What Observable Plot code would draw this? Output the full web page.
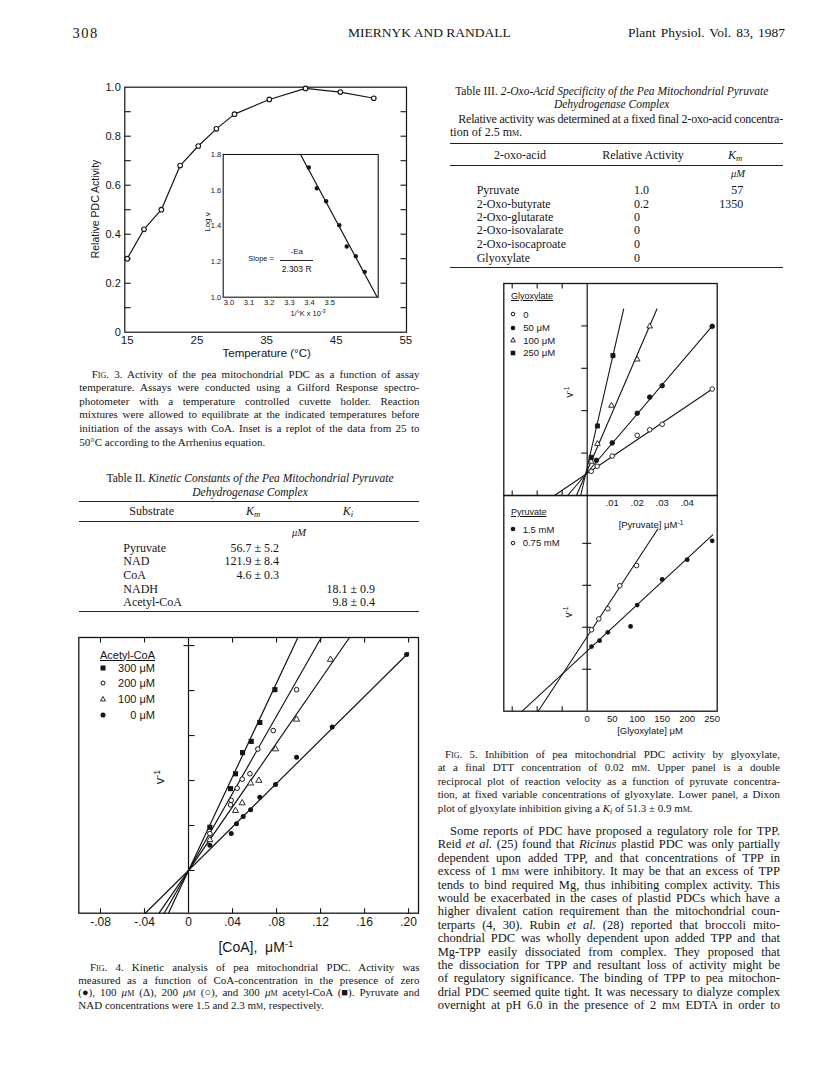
<!DOCTYPE html>
<html><head><meta charset="utf-8">
<script src="https://cdn.jsdelivr.net/npm/d3@7"></script>
<script src="https://cdn.jsdelivr.net/npm/@observablehq/plot@0.6"></script>
<style>
html,body{margin:0;padding:0;background:#fff;}
#page{position:relative;width:816px;height:1073px;overflow:hidden;background:#fff;color:#151515;font-family:"Liberation Serif","Times New Roman",serif;}
.sc{font-variant:small-caps;}
sub.s{font-size:72%;vertical-align:-0.25em;line-height:0;}
sup.s{font-size:70%;vertical-align:0.5em;line-height:0;}
</style></head><body><div id="page"></div>
<script>
// ---------------- DATA ----------------
// Fig. 3 main panel
const fig3Temp = [15, 17.4, 19.9, 22.6, 25.2, 27.8, 30.4, 35.4, 40.6, 45.6, 50.4];
const fig3Activity = [0.30, 0.42, 0.50, 0.68, 0.76, 0.83, 0.89, 0.95, 0.995, 0.98, 0.955];
const fig3XTicks = [15, 25, 35, 45, 55];
const fig3YTicks = [0, 0.2, 0.4, 0.6, 0.8, 1.0];
const fig3YMinor = [0.1, 0.2, 0.3, 0.4, 0.5, 0.6, 0.7, 0.8, 0.9];
// Fig. 3 inset (Arrhenius replot)
const insetInvT = [3.396, 3.436, 3.482, 3.547, 3.584, 3.629, 3.673];
const insetLogV = [1.727, 1.611, 1.538, 1.404, 1.284, 1.230, 1.142];
const insetFitX = [3.355, 3.735];
const insetFitY = [1.8, 1.0];
const insetXTicks = [3.0, 3.1, 3.2, 3.3, 3.4, 3.5];
const insetYTicks = [1.0, 1.2, 1.4, 1.6, 1.8];
// Fig. 4 (double reciprocal, acetyl-CoA)
const coaSeries = ["300 μM", "200 μM", "100 μM", "0 μM"];
const coa300X = [0.0785, 0.0648, 0.0570, 0.0491, 0.0427, 0.0382, 0.0194];
const coa300Y = [5.02, 4.29, 3.87, 3.62, 3.15, 2.82, 1.96];
const coa200X = [0.0982, 0.0770, 0.0630, 0.0558, 0.0488, 0.0442, 0.0388, 0.0382, 0.0194];
const coa200Y = [5.02, 4.11, 3.70, 3.15, 3.03, 2.83, 2.56, 2.46, 1.82];
const coa100X = [0.1290, 0.0982, 0.0791, 0.0639, 0.0564, 0.0488, 0.0427, 0.0194];
const coa100Y = [5.69, 4.36, 3.70, 3.00, 2.94, 2.50, 2.33, 1.68];
const coa0X = [0.1982, 0.1306, 0.0982, 0.0791, 0.0648, 0.0564, 0.0497, 0.0436, 0.0388, 0.0194];
const coa0Y = [5.80, 4.19, 3.52, 2.91, 2.63, 2.35, 2.20, 2.04, 1.82, 1.56];
const coaFitStartX = [-0.0182, -0.0221, -0.0268, -0.0393];
const coaFitStartY = [0.05, 0.05, 0.05, 0.05];
const coaFitEndX = [0.0994, 0.1207, 0.1463, 0.2000];
const coaFitEndY = [6.18, 6.18, 6.18, 5.84];
const fig4XTicks = [-0.08, -0.04, 0, 0.04, 0.08, 0.12, 0.16, 0.20];
const fig4YTicks = [1, 2, 3, 4, 5, 6];
// Fig. 5 upper (double reciprocal, glyoxylate)
const glySeries = ["0", "50 μM", "100 μM", "250 μM"];
const gly0X = [0.05, 0.03, 0.025, 0.02, 0.01, 0.004, 0.0016];
const gly0Y = [2.51, 1.68, 1.55, 1.42, 0.93, 0.69, 0.57];
const gly50X = [0.05, 0.03, 0.025, 0.02, 0.01, 0.0037];
const gly50Y = [3.99, 2.59, 2.32, 1.94, 1.24, 0.83];
const gly100X = [0.025, 0.02, 0.0097, 0.0041, 0.0016];
const gly100Y = [3.99, 3.21, 2.12, 1.22, 0.80];
const gly250X = [0.0103, 0.0041, 0.0016];
const gly250Y = [3.30, 1.64, 0.90];
const glyFitStartX = [-0.0131, -0.0078, -0.0043, -0.0026];
const glyFitEndX = [0.0505, 0.0505, 0.0279, 0.0146];
const glyFitEndY = [2.53, 4.03, 4.40, 4.40];
const fig5UXTicks = [0.01, 0.02, 0.03, 0.04];
const fig5UFrameTicks = [-0.03, -0.02, -0.01];
const fig5UYTicks = [1, 2, 3, 4];
// Fig. 5 lower (Dixon plot)
const pyrSeries = ["1.5 mM", "0.75 mM"];
const pyr15X = [8.7, 24.7, 41.3, 86.7, 100, 150, 200, 250];
const pyr15Y = [1.54, 1.68, 1.88, 2.02, 2.53, 3.14, 3.61, 4.06];
const pyr075X = [8.7, 23.3, 41.3, 65.3, 98.7];
const pyr075Y = [1.94, 2.20, 2.44, 2.99, 3.47];
const pyrFitX = [[-130, 251], [-98, 141.3]];
const pyrFitY = [[0, 4.20], [0, 4.34]];
const fig5LXTicks = [0, 50, 100, 150, 200, 250];
const fig5LFrameTicks = [-150, -100, -50];
const fig5LYTicks = [1, 2, 3, 4];

// ---------------- HELPERS ----------------
const SANS = '"Liberation Sans", Arial, Helvetica, sans-serif';
const SERIF = '"Liberation Serif", "Times New Roman", serif';
const INK = "#151515";
const page = document.getElementById("page");

function put(el, left, top) {
  el.style.position = "absolute"; el.style.left = left + "px"; el.style.top = top + "px";
  page.appendChild(el); return el;
}
function textAt(html, x, yc, o = {}) {
  const size = o.size || 12, lh = o.lh || Math.round(size * 1.2);
  const d = document.createElement("div");
  d.innerHTML = html;
  Object.assign(d.style, {position: "absolute", whiteSpace: "nowrap", fontSize: size + "px",
    lineHeight: lh + "px", fontFamily: o.family || SERIF, top: (yc - lh / 2) + "px", left: x + "px"});
  if (o.italic) d.style.fontStyle = "italic";
  if (o.weight) d.style.fontWeight = o.weight;
  if (o.underline) d.style.textDecoration = "underline";
  page.appendChild(d);
  const w = d.getBoundingClientRect().width;
  if (o.anchor === "middle") d.style.left = (x - w / 2) + "px";
  else if (o.anchor === "end") d.style.left = (x - w) + "px";
  if (o.width) {
    const t = d.textContent, n = t.length, spaces = (t.match(/ /g) || []).length;
    if (w > o.width) d.style.letterSpacing = ((o.width - w) / n) + "px";
    else if (o.justify && spaces) d.style.wordSpacing = ((o.width - w) / spaces) + "px";
  }
  return d;
}
function rotText(html, cx, cy, o = {}) {
  const d = textAt(html, cx, cy, o);
  const w = d.getBoundingClientRect().width;
  d.style.left = (cx - w / 2) + "px";
  d.style.transform = "rotate(-90deg)";
  d.style.transformOrigin = "50% 50%";
  return d;
}
function hrule(x1, x2, y, w = 1) {
  const d = document.createElement("div");
  Object.assign(d.style, {position: "absolute", left: x1 + "px", top: (y - w / 2) + "px", width: (x2 - x1) + "px", height: w + "px", background: "#222"});
  page.appendChild(d);
}
function legendSym(kind, cx, cy, s = 5) {
  const h = s / 2;
  let shape;
  if (kind === "square") shape = `<rect x="${-h}" y="${-h}" width="${s}" height="${s}" fill="${INK}"/>`;
  else if (kind === "dot") shape = `<circle r="${h}" fill="${INK}"/>`;
  else if (kind === "circle") shape = `<circle r="${h - 0.5}" fill="white" stroke="${INK}" stroke-width="1"/>`;
  else shape = `<path d="M0,${-h}L${h},${h * 0.8}L${-h},${h * 0.8}Z" fill="white" stroke="${INK}" stroke-width="0.9"/>`;
  const d = document.createElement("div");
  d.innerHTML = `<svg width="12" height="12" viewBox="-6 -6 12 12" style="display:block">${shape}</svg>`;
  return put(d, cx - 6, cy - 6);
}
const tick = (x1, y1, x2, y2) => ({draw(ctx) { ctx.moveTo(x1, y1); ctx.lineTo(x2, y2); }});
const TICK = {stroke: INK, fill: "none", strokeWidth: 1.1};
const plotStyle = (fs) => ({background: "transparent", fontFamily: SANS, fontSize: fs + "px", color: INK, overflow: "visible"});
const dotFmt = d => d === 0 ? "0" : d3.format(".2f")(d).replace(/^([−-]?)0\./, "$1.").replace("−", "-");
const rows = (xs, ys, s) => xs.map((x, i) => ({x, y: ys[i], s}));

// ---------------- HEADER ----------------
textAt("308", 72.5, 33, {size: 14.5, lh: 16}).style.letterSpacing = "1.5px";
textAt("MIERNYK AND RANDALL", 348, 33, {size: 13.5, lh: 16, width: 164});
textAt("Plant Physiol. Vol. 83, 1987", 628, 33, {size: 13.5, lh: 16, width: 157, justify: true});

// ---------------- FIG. 3 ----------------
const fig3Rows = rows(fig3Temp, fig3Activity, "a");
const fig3 = Plot.plot({
  width: 360, height: 290, marginLeft: 64.3, marginRight: 14, marginTop: 11.7, marginBottom: 33.3,
  style: plotStyle(11.5),
  x: {domain: [14.65, 55.1]}, y: {domain: [0, 1]},
  marks: [
    Plot.frame({stroke: INK, strokeWidth: 1.2}),
    Plot.axisX({ticks: fig3XTicks, tickSize: 0, tickPadding: 4, label: null, fontSize: 11.5}),
    Plot.axisY({ticks: fig3YTicks, tickSize: 0, tickPadding: 4, label: null, fontSize: 11, tickFormat: d => d === 0 ? "0" : d.toFixed(1)}),
    Plot.dot(fig3YMinor, {y: d => d, frameAnchor: "left", symbol: tick(0, 0, 6, 0), ...TICK}),
    Plot.dot(fig3YMinor, {y: d => d, frameAnchor: "right", symbol: tick(0, 0, -6, 0), ...TICK}),
    Plot.line(fig3Rows, {x: "x", y: "y", stroke: INK, strokeWidth: 1.2}),
    Plot.dot(fig3Rows, {x: "x", y: "y", r: 2.3, fill: "white", stroke: INK, strokeWidth: 1.1})
  ]
});
put(fig3, 60, 75);
rotText("Relative PDC Activity", 95, 208.5, {size: 10.5, family: SANS, lh: 12});
textAt("Temperature (°C)", 266.7, 353.3, {size: 11.5, family: SANS, anchor: "middle"});

// inset
const insetRows = rows(insetInvT, insetLogV, "p");
const insetFit = rows(insetFitX, insetFitY, "f");
const inset = Plot.plot({
  width: 190, height: 175, marginLeft: 27.7, marginRight: 7.3, marginTop: 9, marginBottom: 23.3,
  style: plotStyle(7.5),
  x: {domain: [2.972, 3.74]}, y: {domain: [1.0, 1.8]},
  marks: [
    Plot.frame({fill: "white", stroke: INK, strokeWidth: 1.1}),
    Plot.axisX({ticks: insetXTicks, tickSize: 0, tickPadding: 2.5, label: null, fontSize: 7.5, tickFormat: d3.format(".1f")}),
    Plot.axisY({ticks: insetYTicks, tickSize: 0, tickPadding: 2, label: null, fontSize: 7.5, tickFormat: d3.format(".1f")}),
    Plot.line(insetFit, {x: "x", y: "y", stroke: INK, strokeWidth: 1.2}),
    Plot.dot(insetRows, {x: "x", y: "y", r: 2.2, fill: INK})
  ]
});
put(inset, 195, 145);
rotText("Log v", 208, 222, {size: 8, family: SANS, lh: 10});
textAt("1/°K x 10<sup class='s'>-3</sup>", 308, 314, {size: 7.5, family: SANS, anchor: "middle", lh: 8});
textAt("Slope =", 248.3, 258.3, {size: 7.5, family: SANS});
textAt("-Ea", 296.7, 251.7, {size: 8, family: SANS, anchor: "middle", lh: 9});
hrule(280, 313, 260.3, 0.9);
textAt("2.303 R", 296.7, 269, {size: 8.5, family: SANS, anchor: "middle", lh: 9});

// caption fig 3
const cap3 = [
  "<span class='sc'>Fig</span>. 3. Activity of the pea mitochondrial PDC as a function of assay",
  "temperature. Assays were conducted using a Gilford Response spectro-",
  "photometer with a temperature controlled cuvette holder. Reaction",
  "mixtures were allowed to equilibrate at the indicated temperatures before",
  "initiation of the assays with CoA. Inset is a replot of the data from 25 to",
  "50°C according to the Arrhenius equation."
];
cap3.forEach((s, i) => {
  const x = i === 0 ? 91.7 : 79.3;
  textAt(s, x, 374 + i * 13.66, {size: 11, lh: 13, width: i === cap3.length - 1 ? null : 419.5 - x, justify: true});
});

// ---------------- TABLE II ----------------
textAt("Table II. <i>Kinetic Constants of the Pea Mitochondrial Pyruvate</i>", 250, 478, {size: 11.5, lh: 13, anchor: "middle"});
textAt("<i>Dehydrogenase Complex</i>", 250, 492, {size: 11.5, lh: 13, anchor: "middle"});
hrule(79.3, 419, 501.7, 1.4);
textAt("Substrate", 151.7, 511.7, {size: 12, lh: 13, anchor: "middle"});
textAt("<i>K</i><sub class='s'><i>m</i></sub>", 253, 511.7, {size: 12, lh: 13, anchor: "middle"});
textAt("<i>K</i><sub class='s'><i>i</i></sub>", 348, 511.7, {size: 12, lh: 13, anchor: "middle"});
hrule(79.3, 419, 521, 0.8);
textAt("<i>μM</i>", 299, 532.7, {size: 10.5, lh: 12, anchor: "middle"});
const t2Sub = ["Pyruvate", "NAD", "CoA", "NADH", "Acetyl-CoA"];
const t2Km = ["56.7 ± 5.2", "121.9 ± 8.4", "4.6 ± 0.3", "", ""];
const t2Ki = ["", "", "", "18.1 ± 0.9", "9.8 ± 0.4"];
const t2Y = [548.3, 561.7, 575.3, 589.3, 602.7];
t2Sub.forEach((s, i) => {
  textAt(s, 123.3, t2Y[i], {size: 12, lh: 13});
  if (t2Km[i]) textAt(t2Km[i], 279, t2Y[i], {size: 12, lh: 13, anchor: "end"});
  if (t2Ki[i]) textAt(t2Ki[i], 375, t2Y[i], {size: 12, lh: 13, anchor: "end"});
});
hrule(79.3, 419, 611.7, 1.4);

// ---------------- FIG. 4 ----------------
const fig4Pts = [
  ...rows(coa300X, coa300Y, coaSeries[0]), ...rows(coa200X, coa200Y, coaSeries[1]),
  ...rows(coa100X, coa100Y, coaSeries[2]), ...rows(coa0X, coa0Y, coaSeries[3])
];
const fig4Fit = coaSeries.flatMap((s, i) => [
  {x: coaFitStartX[i], y: coaFitStartY[i], s}, {x: coaFitEndX[i], y: coaFitEndY[i], s}
]);
const bySeries = s => d => d.s === s;
const fig4 = Plot.plot({
  width: 365, height: 305, marginLeft: 18.3, marginRight: 7, marginTop: 9, marginBottom: 20.3,
  style: plotStyle(12),
  x: {domain: [-0.0997, 0.209]}, y: {domain: [0.05, 6.18], axis: null},
  marks: [
    Plot.frame({stroke: INK, strokeWidth: 1.3}),
    Plot.axisX({ticks: fig4XTicks, tickSize: 0, tickPadding: 4, label: null, fontSize: 12, tickFormat: dotFmt}),
    Plot.dot(fig4XTicks.filter(d => d !== 0), {x: d => d, frameAnchor: "bottom", symbol: tick(0, 0, 0, -5), ...TICK}),
    Plot.dot(fig4XTicks.filter(d => d !== 0), {x: d => d, frameAnchor: "top", symbol: tick(0, 0, 0, 5), ...TICK}),
    Plot.ruleX([0], {stroke: INK, strokeWidth: 1.2}),
    Plot.dot(fig4YTicks, {x: () => 0, y: d => d, symbol: tick(0, 0, 6, 0), ...TICK}),
    Plot.dot(fig4YTicks.slice(-1), {x: () => 0, y: d => d, symbol: tick(-5, 0, 0, 0), ...TICK}),
    Plot.line(fig4Fit, {x: "x", y: "y", z: "s", stroke: INK, strokeWidth: 1.2}),
    Plot.dot(fig4Pts.filter(bySeries(coaSeries[0])), {x: "x", y: "y", symbol: "square", r: 2.9, fill: INK}),
    Plot.dot(fig4Pts.filter(bySeries(coaSeries[1])), {x: "x", y: "y", r: 2.3, fill: "white", stroke: INK, strokeWidth: 1}),
    Plot.dot(fig4Pts.filter(bySeries(coaSeries[2])), {x: "x", y: "y", symbol: "triangle", r: 2.3, fill: "white", stroke: INK, strokeWidth: 0.9}),
    Plot.dot(fig4Pts.filter(bySeries(coaSeries[3])), {x: "x", y: "y", r: 2.5, fill: INK})
  ]
});
put(fig4, 60, 628);
textAt("Acetyl-CoA", 100, 655, {size: 11, family: SANS, underline: true});
const leg4Kinds = ["square", "circle", "triangle", "dot"];
const leg4Y = [668.3, 683.3, 699, 715];
coaSeries.forEach((s, i) => {
  legendSym(leg4Kinds[i], 103.3, leg4Y[i], 5);
  textAt(s, 155, leg4Y[i], {size: 11, family: SANS, anchor: "end"});
});
rotText("v<sup class='s'>-1</sup>", 160, 776.7, {size: 13, family: SANS, lh: 14});
textAt("[CoA],&nbsp; μM<sup class='s'>-1</sup>", 256, 946.7, {size: 14, family: SANS, anchor: "middle", lh: 16});

const cap4 = [
  "<span class='sc'>Fig</span>. 4. Kinetic analysis of pea mitochondrial PDC. Activity was",
  "measured as a function of CoA-concentration in the presence of zero",
  "(●), 100 <i>μ</i><span class='sc'>m</span> (Δ), 200 <i>μ</i><span class='sc'>m</span> (○), and 300 <i>μ</i><span class='sc'>m</span> acetyl-CoA (■). Pyruvate and",
  "NAD concentrations were 1.5 and 2.3 m<span class='sc'>m</span>, respectively."
];
cap4.forEach((s, i) => {
  const x = i === 0 ? 90 : 78.3;
  textAt(s, x, 967.7 + i * 12.45, {size: 11, lh: 12.5, width: i === cap4.length - 1 ? null : 419.5 - x, justify: true});
});

// ---------------- TABLE III ----------------
textAt("Table III. <i>2-Oxo-Acid Specificity of the Pea Mitochondrial Pyruvate</i>", 611.7, 91, {size: 11.5, lh: 13, anchor: "middle"});
textAt("<i>Dehydrogenase Complex</i>", 611.7, 104.3, {size: 11.5, lh: 13, anchor: "middle"});
textAt("Relative activity was determined at a fixed final 2-oxo-acid concentra-", 458.3, 119.3, {size: 12, lh: 13, width: 783 - 458.3, justify: true});
textAt("tion of 2.5 m<span class='sc'>m</span>.", 450, 132.3, {size: 12, lh: 13});
hrule(450, 783, 143.3, 1.4);
textAt("2-oxo-acid", 520, 155, {size: 12, lh: 13, anchor: "middle"});
textAt("Relative Activity", 643, 155, {size: 12, lh: 13, anchor: "middle"});
textAt("<i>K</i><sub class='s'><i>m</i></sub>", 735, 155, {size: 12, lh: 13, anchor: "middle"});
hrule(450, 783, 165, 0.8);
textAt("<i>μM</i>", 738, 174.3, {size: 10.5, lh: 12, anchor: "middle"});
const t3Acid = ["Pyruvate", "2-Oxo-butyrate", "2-Oxo-glutarate", "2-Oxo-isovalarate", "2-Oxo-isocaproate", "Glyoxylate"];
const t3Rel = ["1.0", "0.2", "0", "0", "0", "0"];
const t3Km = ["57", "1350", "", "", "", ""];
const t3Y = [190, 204, 217.7, 230.7, 244.3, 258.3];
t3Acid.forEach((s, i) => {
  textAt(s, 476.7, t3Y[i], {size: 12, lh: 13});
  textAt(t3Rel[i], 634, t3Y[i], {size: 12, lh: 13});
  if (t3Km[i]) textAt(t3Km[i], 743.3, t3Y[i], {size: 12, lh: 13, anchor: "end"});
});
hrule(450, 783, 267.7, 1.4);

// ---------------- FIG. 5 upper ----------------
const glyKinds = ["circle", "dot", "triangle", "square"];
const glyX = [gly0X, gly50X, gly100X, gly250X], glyY = [gly0Y, gly50Y, gly100Y, gly250Y];
const fig5UPts = glySeries.flatMap((s, i) => rows(glyX[i], glyY[i], s));
const fig5UFit = glySeries.flatMap((s, i) => [{x: glyFitStartX[i], y: 0, s}, {x: glyFitEndX[i], y: glyFitEndY[i], s}]);
const symFor = k => k === "circle" || k === "dot" ? "circle" : k;
const fig5U = Plot.plot({
  width: 230, height: 240, marginLeft: 8.3, marginRight: 8.3, marginTop: 8, marginBottom: 20,
  style: plotStyle(9.5),
  x: {domain: [-0.03336, 0.052]}, y: {domain: [0, 5], axis: null},
  marks: [
    Plot.frame({stroke: INK, strokeWidth: 1.3}),
    Plot.axisX({ticks: fig5UXTicks, tickSize: 0, tickPadding: 4, label: null, fontSize: 9.5, tickFormat: dotFmt}),
    Plot.dot(fig5UFrameTicks, {x: d => d, frameAnchor: "bottom", symbol: tick(0, 0, 0, -5), ...TICK}),
    Plot.dot(fig5UFrameTicks, {x: d => d, frameAnchor: "top", symbol: tick(0, 0, 0, 5), ...TICK}),
    Plot.ruleX([0], {stroke: INK, strokeWidth: 1.2}),
    Plot.dot(fig5UYTicks, {x: () => 0, y: d => d, symbol: tick(-6, 0, 0, 0), ...TICK}),
    Plot.line(fig5UFit, {x: "x", y: "y", z: "s", stroke: INK, strokeWidth: 1.1}),
    ...glySeries.map((s, i) => Plot.dot(fig5UPts.filter(bySeries(s)), {
      x: "x", y: "y", symbol: symFor(glyKinds[i]), r: glyKinds[i] === "triangle" ? 2.1 : 2.3,
      fill: glyKinds[i] === "dot" || glyKinds[i] === "square" ? INK : "white",
      stroke: INK, strokeWidth: 0.9
    }))
  ]
});
put(fig5U, 495, 275);

// ---------------- FIG. 5 lower ----------------
const pyrKinds = ["dot", "circle"];
const fig5LPts = [...rows(pyr15X, pyr15Y, pyrSeries[0]), ...rows(pyr075X, pyr075Y, pyrSeries[1])];
const fig5LFit = pyrSeries.flatMap((s, i) => [{x: pyrFitX[i][0], y: pyrFitY[i][0], s}, {x: pyrFitX[i][1], y: pyrFitY[i][1], s}]);
const fig5L = Plot.plot({
  width: 230, height: 245, marginLeft: 8.3, marginRight: 8.3, marginTop: 5, marginBottom: 24.3,
  style: plotStyle(9.5),
  x: {domain: [-166.8, 260]}, y: {domain: [0, 5.14], axis: null},
  marks: [
    Plot.frame({stroke: INK, strokeWidth: 1.3}),
    Plot.axisX({ticks: fig5LXTicks, tickSize: 0, tickPadding: 4, label: null, fontSize: 9.5}),
    Plot.dot(fig5LFrameTicks, {x: d => d, frameAnchor: "bottom", symbol: tick(0, 0, 0, -5), ...TICK}),
    Plot.ruleX([0], {stroke: INK, strokeWidth: 1.2}),
    Plot.dot(fig5LYTicks, {x: () => 0, y: d => d, symbol: tick(-5, 0, 4, 0), ...TICK}),
    Plot.line(fig5LFit, {x: "x", y: "y", z: "s", stroke: INK, strokeWidth: 1.1}),
    Plot.dot(fig5LPts.filter(bySeries(pyrSeries[0])), {x: "x", y: "y", r: 2.4, fill: INK}),
    Plot.dot(fig5LPts.filter(bySeries(pyrSeries[1])), {x: "x", y: "y", r: 2.3, fill: "white", stroke: INK, strokeWidth: 0.9})
  ]
});
put(fig5L, 495, 490);

// legends & titles fig 5
textAt("Glyoxylate", 511, 296.7, {size: 9, family: SANS, underline: true});
const legUY = [314, 327.7, 340, 352.7];
glySeries.forEach((s, i) => {
  legendSym(glyKinds[i], 513.3, legUY[i], 4.6);
  textAt(s, 523.3, legUY[i], {size: 9.5, family: SANS});
});
textAt("Pyruvate", 511, 512.7, {size: 9, family: SANS, underline: true});
const legLY = [529.3, 542.7];
pyrSeries.forEach((s, i) => {
  legendSym(pyrKinds[i], 513.3, legLY[i], 4.6);
  textAt(s, 522.7, legLY[i], {size: 9.5, family: SANS});
});
rotText("v<sup class='s'>-1</sup>", 570, 391.7, {size: 10, family: SANS, lh: 12});
rotText("v<sup class='s'>-1</sup>", 568.3, 611.7, {size: 10, family: SANS, lh: 12});
textAt("[Pyruvate] μM<sup class='s'>-1</sup>", 651, 524, {size: 9.5, family: SANS, anchor: "middle"});
textAt("[Glyoxylate] μM", 650, 730, {size: 9.5, family: SANS, anchor: "middle"});

// caption fig 5
const cap5 = [
  "<span class='sc'>Fig</span>. 5. Inhibition of pea mitochondrial PDC activity by glyoxylate,",
  "at a final DTT concentration of 0.02 m<span class='sc'>m</span>. Upper panel is a double",
  "reciprocal plot of reaction velocity as a function of pyruvate concentra-",
  "tion, at fixed variable concentrations of glyoxylate. Lower panel, a Dixon",
  "plot of glyoxylate inhibition giving a <i>K<sub class='s'>i</sub></i> of 51.3 ± 0.9 m<span class='sc'>m</span>."
];
cap5.forEach((s, i) => {
  const x = i === 0 ? 445 : 437.7;
  textAt(s, x, 754 + i * 13.6, {size: 11, lh: 13, width: i === cap5.length - 1 ? null : 780 - x, justify: true});
});

// body text
const body = [
  "Some reports of PDC have proposed a regulatory role for TPP.",
  "Reid <i>et al.</i> (25) found that <i>Ricinus</i> plastid PDC was only partially",
  "dependent upon added TPP, and that concentrations of TPP in",
  "excess of 1 m<span class='sc'>m</span> were inhibitory. It may be that an excess of TPP",
  "tends to bind required Mg, thus inhibiting complex activity. This",
  "would be exacerbated in the cases of plastid PDCs which have a",
  "higher divalent cation requirement than the mitochondrial coun-",
  "terparts (4, 30). Rubin <i>et al.</i> (28) reported that broccoli mito-",
  "chondrial PDC was wholly dependent upon added TPP and that",
  "Mg-TPP easily dissociated from complex. They proposed that",
  "the dissociation for TPP and resultant loss of activity might be",
  "of regulatory significance. The binding of TPP to pea mitochon-",
  "drial PDC seemed quite tight. It was necessary to dialyze complex",
  "overnight at pH 6.0 in the presence of 2 m<span class='sc'>m</span> EDTA in order to"
];
body.forEach((s, i) => {
  const x = i === 0 ? 450 : 437.7;
  textAt(s, x, 831.7 + i * 13.4, {size: 12.5, lh: 13.4, width: 780 - x, justify: true});
});
</script></body></html>
